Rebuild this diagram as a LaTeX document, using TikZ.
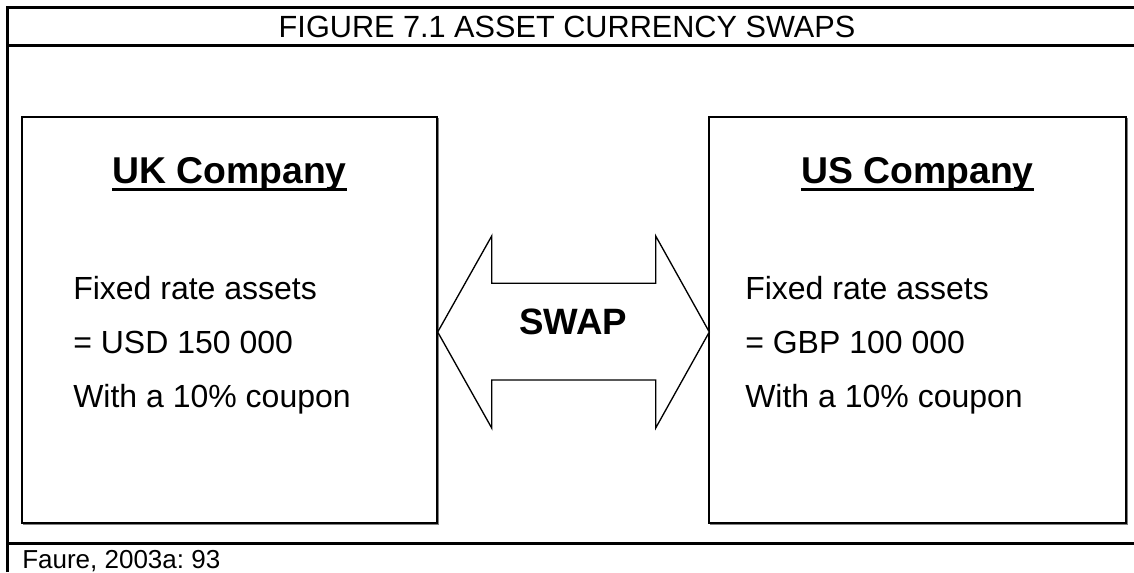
\documentclass[tikz,border=0pt]{standalone}
\usepackage{fontspec}
\setmainfont{Liberation Sans}
\usetikzlibrary{positioning,calc}
\frenchspacing

\begin{document}
\begin{tikzpicture}[
  x=0.75pt, y=-0.75pt,
  frame/.style={line width=2.25pt},
  heading/.style={inner sep=0pt, anchor=base,
    font=\fontsize{28}{32}\selectfont\bfseries},
  body/.style={inner sep=0pt, anchor=base west,
    font=\fontsize{24}{28}\selectfont},
  swaparrow/.style={draw, line width=1pt, fill=white},
]
  \useasboundingbox (0,0) rectangle (1134,572);
  % outer frame and title bar
  \draw[frame] (7,572) -- (7,7) -- (1134,7);
  \draw[frame] (7,45) -- (1134,45);
  \draw[frame] (7,543) -- (1134,543);
  \node[inner sep=0pt, anchor=base, font=\fontsize{23}{26}\selectfont]
    (title) at (567,37) {FIGURE 7.1 ASSET CURRENCY SWAPS};

  % the two companies
  \draw[gray, line width=1pt] (23.5,118.5) rectangle (438.5,524.5);
  \draw[gray, line width=1pt] (710.5,118.5) rectangle (1127.5,524.5);
  \draw[line width=1.5pt, fill=white] (22,117) rectangle (437,523);
  \draw[line width=1.5pt, fill=white] (709,117) rectangle (1126,523);
  \node[heading] (ukh) at (229.5,183) {UK Company};
  \node[heading] (ush) at (917.5,183) {US Company};
  \foreach \h in {ukh,ush}
    \draw[line width=2.5pt] ($(\h.base west)+(0,6.5)$)
      -- ($(\h.base east)+(0,6.5)$);

  \foreach \side/\x/\amount in {uk/73/USD 150 000, us/745/GBP 100 000} {
    \node[body] (\side1) at (\x,299) {Fixed rate assets};
    \node[body] (\side2) at (\x,353) {= \amount};
    \node[body] (\side3) at (\x,407) {With a 10\% coupon};
  }

  % double arrow between the boxes
  \draw[swaparrow] (437.7,332) -- (491.7,236) -- (491.7,283.3)
    -- (655.7,283.3) -- (655.7,236) -- (709.3,332) -- (655.7,428)
    -- (655.7,380) -- (491.7,380) -- (491.7,428) -- cycle;
  \node[inner sep=0pt, font=\fontsize{27.5}{30}\selectfont\bfseries]
    (swap) at (573,321.5) {SWAP};

  \node[inner sep=0pt, anchor=base west, font=\fontsize{19.5}{22}\selectfont]
    (src) at (22,568) {Faure, 2003a: 93};
\end{tikzpicture}
\end{document}
